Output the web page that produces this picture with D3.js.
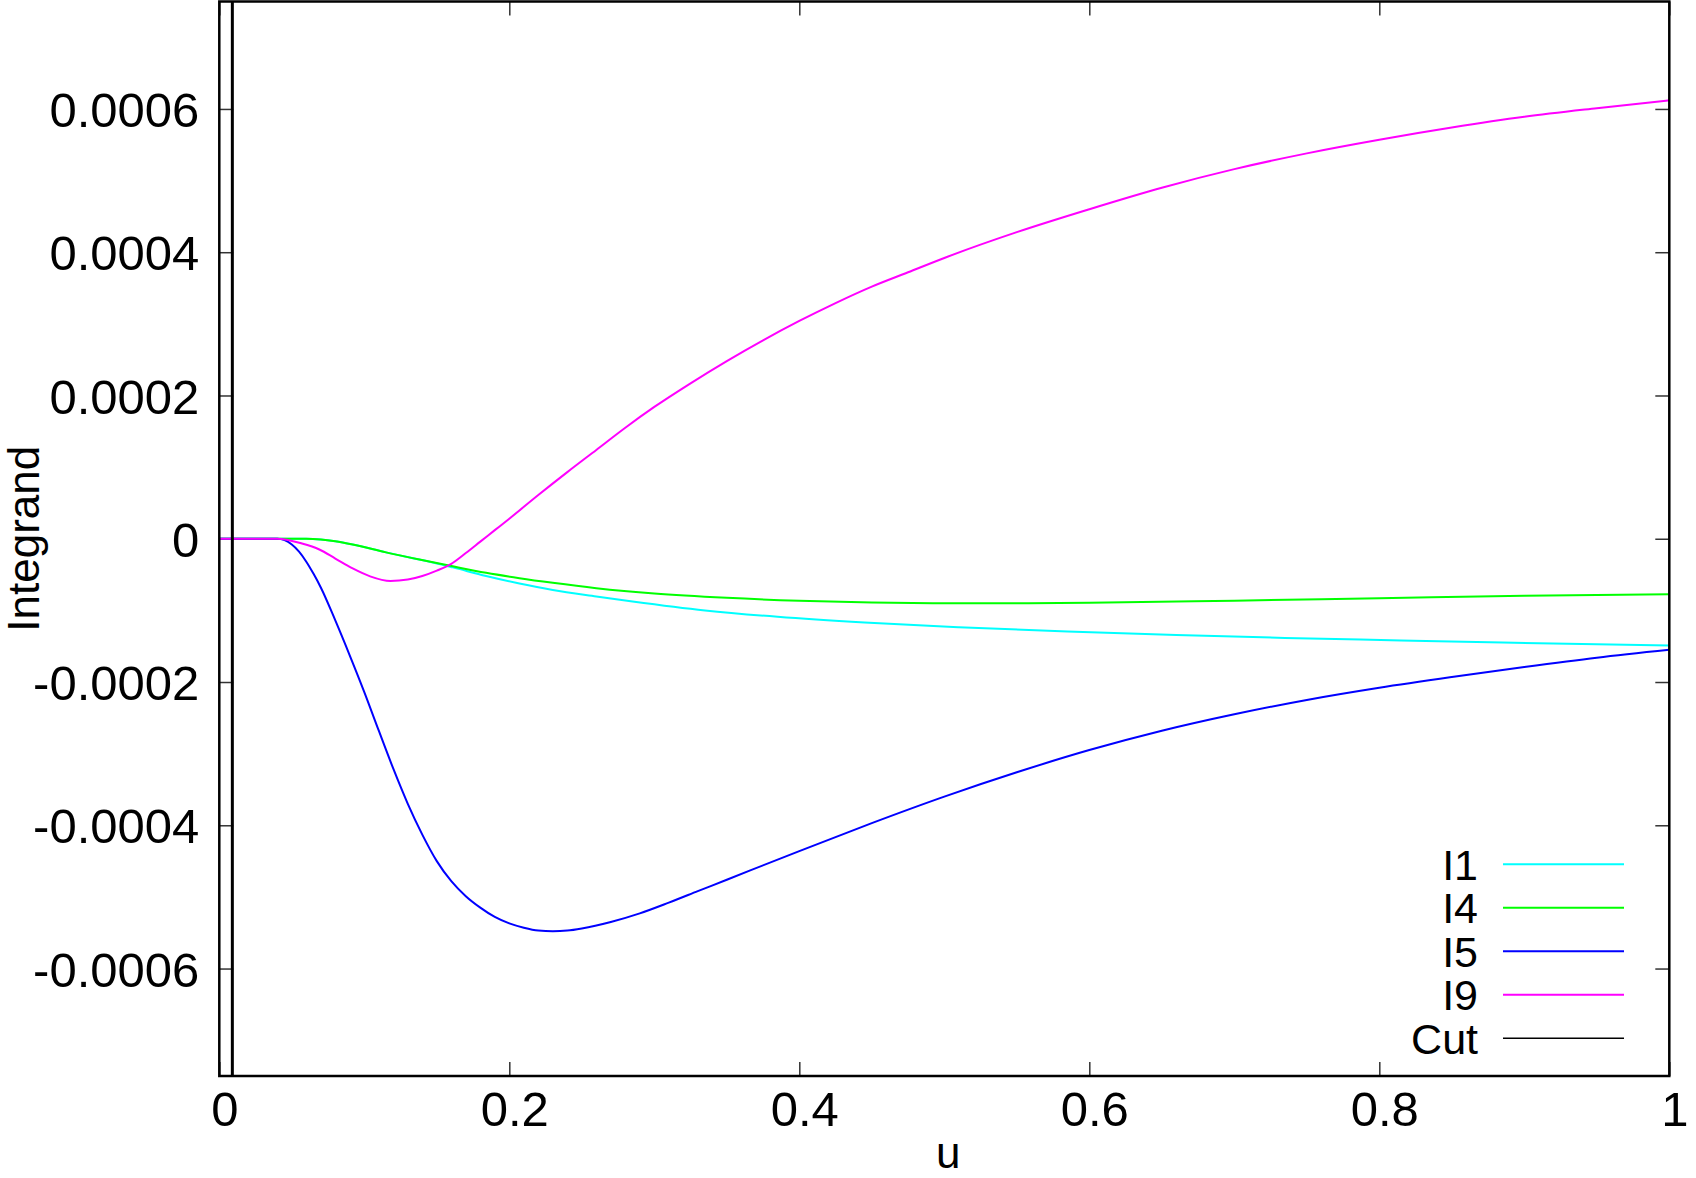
<!DOCTYPE html>
<html>
<head>
<meta charset="utf-8">
<script src="https://cdn.jsdelivr.net/npm/d3@7"></script>
<style>
  html, body { margin: 0; padding: 0; background: #fff; }
  svg { display: block; }
  text { font-family: "Liberation Sans", Arial, sans-serif; fill: #000; }
</style>
</head>
<body>
<div id="chart"></div>
<script>
// values: [u, integrand]
const i1 = [[0,0],[0.04,0],[0.06,0],[0.07,-1e-6],[0.08,-3.5e-6],[0.092,-8e-6],[0.115,-1.9e-5],
  [0.138,-2.9e-5],[0.15,-3.45e-5],[0.161,-4.0e-5],[0.184,-5.2e-5],[0.207,-6.25e-5],[0.23,-7.15e-5],
  [0.26,-8.05e-5],[0.285,-8.75e-5],[0.335,-1.0e-4],[0.385,-1.09e-4],[0.445,-1.17e-4],[0.51,-1.235e-4],
  [0.585,-1.295e-4],[0.66,-1.345e-4],[0.735,-1.385e-4],[0.815,-1.42e-4],[0.885,-1.45e-4],[1.0,-1.49e-4]];
const i4 = [[0,0],[0.04,0],[0.06,0],[0.07,-1e-6],[0.08,-3.5e-6],[0.092,-8e-6],[0.115,-1.9e-5],
  [0.138,-2.9e-5],[0.161,-3.85e-5],[0.184,-4.75e-5],[0.207,-5.5e-5],[0.23,-6.15e-5],[0.26,-6.9e-5],
  [0.3,-7.65e-5],[0.35,-8.25e-5],[0.4,-8.65e-5],[0.45,-8.9e-5],[0.5,-9.0e-5],[0.55,-9.02e-5],
  [0.6,-8.95e-5],[0.7,-8.65e-5],[0.8,-8.3e-5],[0.9,-7.95e-5],[1.0,-7.75e-5]];
const i5 = [[0,0],[0.04,0],[0.045,-2e-6],[0.05,-8e-6],[0.055,-1.8e-5],[0.06,-3.2e-5],[0.065,-4.9e-5],
  [0.07,-6.8e-5],[0.08,-1.14e-4],[0.09,-1.63e-4],[0.1,-2.14e-4],[0.11,-2.68e-4],[0.12,-3.21e-4],
  [0.13,-3.7e-4],[0.14,-4.13e-4],[0.15,-4.5e-4],[0.16,-4.78e-4],[0.17,-4.99e-4],[0.18,-5.15e-4],
  [0.19,-5.28e-4],[0.2,-5.37e-4],[0.21,-5.43e-4],[0.22,-5.47e-4],[0.23,-5.48e-4],[0.24,-5.47e-4],
  [0.25,-5.44e-4],[0.27,-5.35e-4],[0.29,-5.23e-4],[0.31,-5.08e-4],[0.33,-4.92e-4],[0.35,-4.76e-4],
  [0.4,-4.36e-4],[0.45,-3.97e-4],[0.5,-3.6e-4],[0.55,-3.26e-4],[0.6,-2.95e-4],[0.65,-2.68e-4],
  [0.7,-2.45e-4],[0.75,-2.25e-4],[0.8,-2.08e-4],[0.85,-1.93e-4],[0.9,-1.79e-4],[0.95,-1.66e-4],
  [1.0,-1.55e-4]];
const i9 = [[0,0],[0.04,0],[0.057,-6.7e-6],[0.069,-1.5e-5],[0.08,-2.76e-5],[0.092,-4.15e-5],
  [0.104,-5.25e-5],[0.118,-5.9e-5],[0.13,-5.7e-5],[0.14,-5.2e-5],[0.15,-4.45e-5],[0.16,-3.5e-5],
  [0.17,-2.0e-5],[0.18,-4e-6],[0.19,1.2e-5],[0.2,2.8e-5],[0.22,6.1e-5],[0.24,9.3e-5],[0.26,1.24e-4],
  [0.28,1.55e-4],[0.3,1.84e-4],[0.325,2.17e-4],[0.35,2.48e-4],[0.375,2.77e-4],[0.4,3.04e-4],
  [0.425,3.29e-4],[0.45,3.52e-4],[0.475,3.72e-4],[0.5,3.92e-4],[0.55,4.28e-4],[0.6,4.6e-4],
  [0.65,4.9e-4],[0.7,5.16e-4],[0.75,5.38e-4],[0.8,5.57e-4],[0.85,5.74e-4],[0.9,5.89e-4],
  [0.95,6.01e-4],[1.0,6.12e-4]];
const cutU = 0.009;

const seriesNames = ["I1", "I4", "I5", "I9", "Cut"];
const seriesColors = ["#00ffff", "#00ff00", "#0000ff", "#ff00ff", "#000000"];

const xTicks = [0, 0.2, 0.4, 0.6, 0.8, 1];
const xTickLabels = ["0", "0.2", "0.4", "0.6", "0.8", "1"];
const yTicks = [-0.0006, -0.0004, -0.0002, 0, 0.0002, 0.0004, 0.0006];
const yTickLabels = ["-0.0006", "-0.0004", "-0.0002", "0", "0.0002", "0.0004", "0.0006"];

const width = 1696, height = 1178;
const plotLeft = 219.3, plotRight = 1669.3, plotTop = 1.5, plotBottom = 1076;

const svg = d3.select("#chart").append("svg")
  .attr("width", width)
  .attr("height", height);

svg.append("rect").attr("width", width).attr("height", height).attr("fill", "#fff");

const x = d3.scaleLinear().domain([0, 1]).range([plotLeft, plotRight]);
const y = d3.scaleLinear().domain([-0.00075, 0.00075]).range([plotBottom, plotTop]);

// axes (ticks point inward, mirrored on top/right)
const tickLen = 14;
function styleAxis(g) {
  g.select(".domain").remove();
  g.selectAll(".tick line").attr("stroke", "#333").attr("stroke-width", 1.5);
}

svg.append("g")
  .attr("transform", `translate(0,${plotBottom})`)
  .call(d3.axisBottom(x).tickValues(xTicks).tickSize(-tickLen).tickPadding(15)
    .tickFormat((d, i) => xTickLabels[i]))
  .call(styleAxis)
  .call(g => g.selectAll("text").attr("font-size", 49).attr("dx", 5)
    .attr("font-family", "Liberation Sans, Arial, sans-serif"));

svg.append("g")
  .attr("transform", `translate(${plotLeft},0)`)
  .call(d3.axisLeft(y).tickValues(yTicks).tickSize(-tickLen).tickPadding(20)
    .tickFormat((d, i) => yTickLabels[i]))
  .call(styleAxis)
  .call(g => g.selectAll("text").attr("font-size", 49).attr("dy", "0.36em")
    .attr("font-family", "Liberation Sans, Arial, sans-serif"));

svg.append("g")
  .attr("transform", `translate(0,${plotTop})`)
  .call(d3.axisTop(x).tickValues(xTicks).tickSize(-tickLen).tickFormat(""))
  .call(styleAxis);

svg.append("g")
  .attr("transform", `translate(${plotRight},0)`)
  .call(d3.axisRight(y).tickValues(yTicks).tickSize(-tickLen).tickFormat(""))
  .call(styleAxis);

// curves
const line = d3.line()
  .x(d => x(d[0]))
  .y(d => y(d[1]))
  .curve(d3.curveMonotoneX);

const data = [i1, i4, i5, i9];
svg.append("g").selectAll("path")
  .data(data)
  .join("path")
  .attr("d", line)
  .attr("fill", "none")
  .attr("stroke", (d, i) => seriesColors[i])
  .attr("stroke-width", 2);

// cut marker
svg.append("line")
  .attr("x1", x(cutU)).attr("x2", x(cutU))
  .attr("y1", y(0.00075)).attr("y2", y(-0.00075))
  .attr("stroke", "#000")
  .attr("stroke-width", 3);

// frame
svg.append("rect")
  .attr("x", plotLeft).attr("y", plotTop)
  .attr("width", plotRight - plotLeft).attr("height", plotBottom - plotTop)
  .attr("fill", "none")
  .attr("stroke", "#000")
  .attr("stroke-width", 2.5);

// legend
const legend = svg.append("g").selectAll("g")
  .data(seriesNames)
  .join("g")
  .attr("transform", (d, i) => `translate(0,${864.3 + i * 43.5})`);

legend.append("text")
  .attr("x", 1478)
  .attr("dy", "0.36em")
  .attr("text-anchor", "end")
  .attr("font-size", 43)
  .text(d => d);

legend.append("line")
  .attr("x1", 1503).attr("x2", 1624)
  .attr("stroke", (d, i) => seriesColors[i])
  .attr("stroke-width", (d, i) => i === 4 ? 1.5 : 2);

// axis titles
svg.append("text")
  .attr("x", (plotLeft + plotRight) / 2 + 4)
  .attr("y", 1168)
  .attr("text-anchor", "middle")
  .attr("font-size", 44)
  .text("u");

svg.append("text")
  .attr("transform", `translate(39,${(plotTop + plotBottom) / 2}) rotate(-90)`)
  .attr("text-anchor", "middle")
  .attr("font-size", 44)
  .text("Integrand");
</script>
</body>
</html>
